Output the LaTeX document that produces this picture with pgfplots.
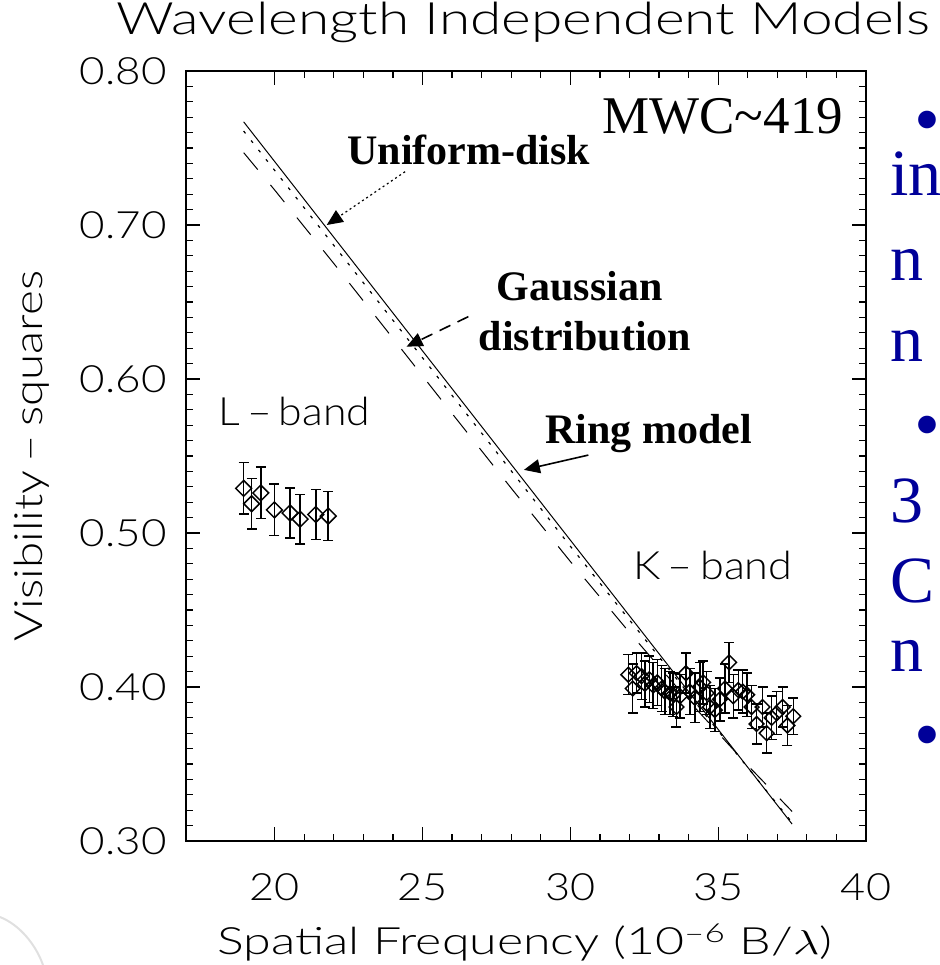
\documentclass[border=0pt]{standalone}
\usepackage{fontspec}
\usepackage{pgfplots}
\pgfplotsset{compat=1.18}
\usetikzlibrary{arrows.meta}
\setmainfont{Liberation Serif}
\IfFontExistsTF{Lato Light}{\newfontfamily\hfont{Lato Light}}{\newfontfamily\hfont{Lato}}
\definecolor{slideblue}{RGB}{0,0,153}
\newcommand\hersh{\hfont\fontsize{18.8pt}{20pt}\selectfont}
\newcommand\hershb{\hfont\fontsize{19.5pt}{21pt}\selectfont}
\newcommand\hersht{\hfont\fontsize{22.3pt}{24pt}\selectfont}
\pgfplotstableread{
x y e
18.95 0.529 0.0168
19.22 0.519 0.0163
19.53 0.526 0.0167
19.99 0.515 0.0167
20.52 0.513 0.0162
20.86 0.509 0.0161
21.39 0.512 0.0162
21.81 0.511 0.0160
}\lband
\pgfplotstableread{
x y e
31.96 0.408 0.013
32.11 0.399 0.016
32.24 0.409 0.013
32.41 0.407 0.015
32.52 0.402 0.015
32.67 0.405 0.015
32.80 0.401 0.015
32.94 0.403 0.015
33.09 0.399 0.015
33.20 0.397 0.015
33.37 0.396 0.014
33.48 0.395 0.014
33.59 0.387 0.013
33.71 0.394 0.014
33.91 0.409 0.013
34.04 0.397 0.015
34.21 0.393 0.016
34.38 0.400 0.016
34.49 0.403 0.014
34.61 0.396 0.014
34.72 0.387 0.014
34.89 0.385 0.014
35.06 0.392 0.014
35.23 0.399 0.016
35.37 0.416 0.013
35.51 0.394 0.014
35.68 0.398 0.013
35.83 0.397 0.014
35.98 0.395 0.014
36.13 0.387 0.014
36.30 0.376 0.013
36.50 0.387 0.013
36.64 0.370 0.013
36.81 0.380 0.014
36.98 0.383 0.014
37.18 0.387 0.013
37.34 0.375 0.013
37.54 0.381 0.012
}\kband
\begin{document}
\begin{tikzpicture}[x=1pt,y=1pt]
\path[use as bounding box] (0,0) rectangle (470,482.5);
\begin{axis}[
  at={(93pt,62pt)}, anchor=south west, scale only axis,
  width=340pt, height=385pt,
  xmin=17, xmax=40, ymin=0.30, ymax=0.80,
  xtick={20,25,30,35,40}, minor x tick num=4,
  ytick={0.3,0.4,0.5,0.6,0.7,0.8}, minor y tick num=9,
  tick align=inside,
  major tick length=7pt, minor tick length=3.5pt,
  axis line style={line width=0.8pt},
  every tick/.style={black, line width=0.6pt},
  /pgf/number format/assume math mode=true,
  tick label style={font=\hersh},
  yticklabel style={/pgf/number format/fixed, /pgf/number format/fixed zerofill, /pgf/number format/precision=2, anchor=east, inner sep=0pt, xshift=-9.5pt, xscale=1.17},
  xticklabel style={anchor=north, inner sep=0pt, yshift=-16pt, xscale=1.15},
  title={\resizebox{406.5pt}{\height}{Wavelength Independent Models}},
  title style={at={(axis description cs:0.4963,1.0312)}, anchor=base, inner sep=0pt, font=\hersht},
  xlabel={\resizebox{307.5pt}{\height}{Spatial Frequency (10\textsuperscript{–6} B/$\lambda$)}},
  xlabel style={at={(axis description cs:0.4985,-0.148)}, anchor=base, inner sep=0pt, font=\hersh},
  ylabel={\resizebox{185pt}{\height}{Visibility\,–\,squares}},
  ylabel style={at={(axis description cs:-0.2103,0.5)}, anchor=base, inner sep=0pt, font=\hershb},
]
% models
\addplot[black, line width=0.5pt] coordinates {(18.95,0.767) (37.5,0.311)};
\addplot[black, line width=0.6pt, dash pattern=on 1.5pt off 4.5pt] coordinates {
  (18.95,0.761) (25,0.6138) (30,0.4914) (33,0.4196) (35,0.3715) (37.5,0.312)};
\addplot[black, line width=0.5pt, dash pattern=on 11pt off 10pt] coordinates {
  (18.95,0.747) (20,0.7227) (22,0.6750) (24,0.6264) (26,0.5776) (28,0.5291)
  (30,0.4815) (32,0.4354) (34,0.3911) (36,0.3491) (37.5,0.3192)};
% data
\addplot[black, only marks, mark=square, mark size=2.8pt,
  mark options={rotate=45, line width=0.75pt},
  error bars/.cd, y dir=both, y explicit,
  error bar style={line width=0.75pt},
  error mark options={black, rotate=90, mark size=2.5pt, line width=0.75pt}]
  table[x=x, y=y, y error=e] {\lband};
\addplot[black, only marks, mark=square, mark size=2.6pt,
  mark options={rotate=45, line width=0.75pt},
  error bars/.cd, y dir=both, y explicit,
  error bar style={line width=0.75pt},
  error mark options={black, rotate=90, mark size=2.5pt, line width=0.75pt}]
  table[x=x, y=y, y error=e] {\kband};
% annotations
\node[anchor=base west, inner sep=0pt, font=\fontsize{26.5pt}{30pt}\selectfont] at (axis cs:31.07,0.7591) {MWC\textasciitilde 419};
\node[anchor=base west, inner sep=0pt, font=\fontsize{21pt}{25pt}\selectfont\bfseries] at (axis cs:22.446,0.7390) {Uniform-disk};
\node[anchor=base, inner sep=0pt, font=\fontsize{21pt}{25pt}\selectfont\bfseries] at (axis cs:30.31,0.6513) {Gaussian};
\node[anchor=base, inner sep=0pt, font=\fontsize{21pt}{25pt}\selectfont\bfseries] at (axis cs:30.495,0.6188) {distribution};
\node[anchor=base west, inner sep=0pt, font=\fontsize{21pt}{25pt}\selectfont\bfseries] at (axis cs:29.14,0.5578) {Ring model};
\node[anchor=base west, inner sep=0pt, font=\hershb] at (axis cs:18.08,0.5695) {\resizebox{76pt}{\height}{L\,–\,band}};
\node[anchor=base west, inner sep=0pt, font=\hershb] at (axis cs:32.12,0.4695) {\resizebox{79.5pt}{\height}{K\,–\,band}};
\draw[black, line width=0.6pt, dash pattern=on 1pt off 1.5pt, -{Triangle[length=8pt,width=7pt]}] (axis cs:24.41,0.7346) -- (axis cs:21.76,0.700);
\draw[black, line width=0.8pt, dash pattern=on 6pt off 4pt, -{Triangle[length=8pt,width=7pt]}] (axis cs:26.55,0.6405) -- (axis cs:24.46,0.621);
\draw[black, line width=0.8pt, -{Triangle[length=8pt,width=7pt]}] (axis cs:30.61,0.5506) -- (axis cs:28.43,0.541);
\end{axis}
% cropped slide text at right
\begin{scope}[every node/.style={inner sep=0pt, text=slideblue, font=\fontsize{33pt}{36pt}\selectfont}]
\node[anchor=base west] at (445,384.5) {in};
\node[anchor=base west] at (445,342) {n};
\node[anchor=base west] at (445,301.5) {n};
\node[anchor=base west] at (445,221) {3};
\node[anchor=base west] at (445,181) {C};
\node[anchor=base west] at (445,146.5) {n};
\node[anchor=base, font=\fontsize{37pt}{40pt}\selectfont] at (463.5,410) {•};
\node[anchor=base, font=\fontsize{37pt}{40pt}\selectfont] at (463.5,257.5) {•};
\node[anchor=base, font=\fontsize{37pt}{40pt}\selectfont] at (463.5,102.5) {•};
\end{scope}
\draw[black!12, line width=1pt] (0,24) .. controls (10,20) and (18,10) .. (21.5,0);
\end{tikzpicture}
\end{document}
